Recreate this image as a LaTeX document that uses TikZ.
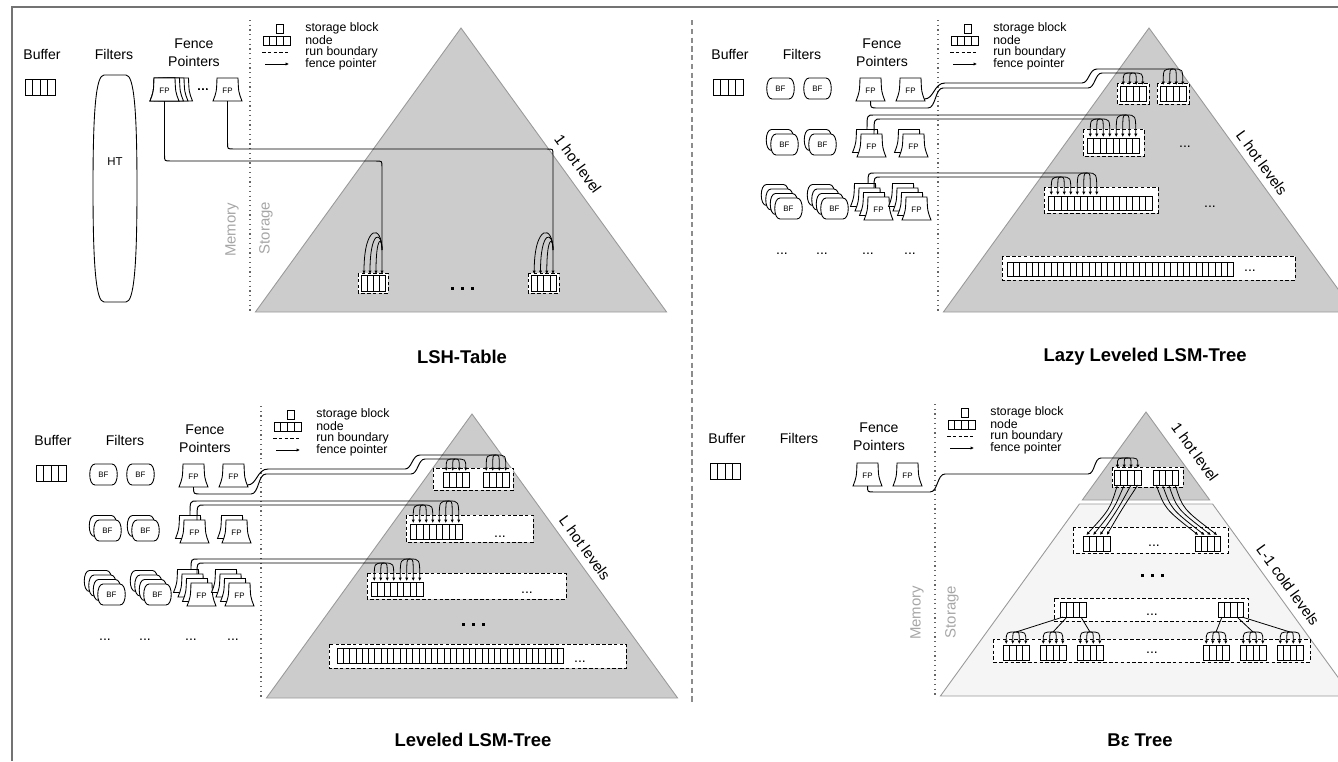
\documentclass[tikz,border=0pt]{standalone}
\usepackage{fontspec}
\setmainfont{Liberation Sans}
\usetikzlibrary{arrows.meta}

\tikzset{
  lbl/.style={font=\fontsize{8}{10.2}\selectfont, inner sep=0pt, align=center},
  ttl/.style={font=\bfseries\fontsize{10.5}{12}\selectfont},
  tag/.style={font=\fontsize{4.5}{5}\selectfont, inner sep=0pt},
  lgd/.style={font=\fontsize{7}{7}\selectfont, anchor=west, inner sep=0pt},
  slope/.style={font=\fontsize{8.5}{9}\selectfont, rotate=-54, inner sep=0pt},
  side/.style={font=\fontsize{8.5}{9}\selectfont, text=black!35, rotate=90},
  run/.style={dash pattern=on 2pt off 1.3pt, fill=white, line width=0.5pt},
  wire/.style={line width=0.55pt},
  tip/.style={-{Latex[length=1.9pt,width=1.9pt]}},
  fan/.style={line width=0.45pt, tip},
  hill/.style={fill=black!20, draw=black!40, line width=0.5pt},
}

% row of storage blocks: x, y (top left), count, block width, height
\newcommand{\blockrow}[5]{%
  \draw[fill=white, line width=0.45pt] (#1,#2) rectangle ({#1+#3*#4},{#2+#5});
  \foreach \k in {2,...,#3}
    \draw[line width=0.45pt] ({#1+(\k-1)*#4},#2) -- ++(0,#5);
}

% fence pointer page
\newcommand{\fpshape}[2]{%
  \draw[fill=white, line width=0.5pt] (#1+4,#2) -- (#1+25,#2)
    .. controls (#1+25.5,#2+14) .. (#1+29,#2+23) -- (#1,#2+23)
    .. controls (#1+3.5,#2+14) .. cycle;}
\newcommand{\fpstack}[3]{%
  \foreach \k in {#3,...,1}{\pgfmathsetmacro\dd{4.5*(\k-1)}\fpshape{#1-\dd}{#2-\dd}}
  \node[tag] (fp) at (#1+14.5,#2+13) {FP};}
\newcommand{\fpbox}[2]{\fpstack{#1}{#2}{1}}

% bloom filter
\newcommand{\bfshape}[2]{%
  \draw[fill=white, line width=0.5pt] (#1+6,#2) -- (#1+23,#2)
    .. controls (#1+30,#2) and (#1+30,#2+21) .. (#1+23,#2+21) -- (#1+6,#2+21)
    .. controls (#1-1,#2+21) and (#1-1,#2) .. cycle;}
\newcommand{\bfstack}[3]{%
  \foreach \k in {#3,...,1}{\pgfmathsetmacro\dd{4.5*(\k-1)}\bfshape{#1-\dd}{#2-\dd}}
  \node[tag] (bf) at (#1+14.5,#2+11) {BF};}
\newcommand{\bfbox}[2]{\bfstack{#1}{#2}{1}}

% pointers spreading from one point onto a row of blocks
\newcommand{\dome}[6]{%
  \foreach \k in {1,...,#5}
    \draw[fan] (#1,#2) .. controls ({#3+(\k-1)*#4},#2) .. ({#3+(\k-1)*#4},#6);}

% labels, buffer, memory line and legend of one panel
\newcommand{\panelhead}[1]{%
  \node[lbl] (#1-buf) at (42,54) {Buffer};
  \blockrow{25}{79}{4}{7.5}{16}
  \node[lbl] (#1-filt) at (114,54) {Filters};
  \node[lbl] (#1-fp) at (194,53) {Fence\\Pointers};
  \draw[dotted, line width=0.7pt, black!60] (250,20) -- (250,312);
  \draw[line width=0.45pt] (276.5,24) rectangle (283,33);
  \blockrow{263}{36}{4}{6.75}{9}
  \draw[line width=0.5pt, dash pattern=on 2pt off 1.3pt] (262,52) -- (288,52);
  \draw[fan] (265,64) -- (289,64);
  \node[lgd] (#1-l1) at (305,28) {storage block};
  \node[lgd] (#1-l2) at (305,40) {node};
  \node[lgd] (#1-l3) at (305,52) {run boundary};
  \node[lgd] (#1-l4) at (305,64) {fence pointer};
}

% filters and fence pointers of the lsm-trees
\newcommand{\lsmmemory}{%
  \bfbox{78}{78} \bfbox{115}{78}
  \bfstack{82}{134}{2} \bfstack{120}{134}{2}
  \bfstack{86}{198}{4} \bfstack{132}{198}{4}
  \fpbox{168}{78} \fpbox{208}{78}
  \fpstack{169}{134}{2} \fpstack{211}{134}{2}
  \fpstack{176}{197}{4} \fpstack{214}{197}{4}
  \foreach \x in {94,134,180,222} \node[lbl] (dots\x) at (\x,254) {...};
}
\newcommand{\lsmwires}{%
  \draw[wire] (182.5,101) .. controls (182.5,108) .. (190,108) -- (240,108)
    .. controls (248,108) and (247,88) .. (255,88)
    -- (400,88) .. controls (407,88) and (407,73) .. (414,73) -- (444,73);
  \draw[wire] (236.5,99) .. controls (246,99) and (246,83) .. (257,83)
    -- (394,83) .. controls (401,83) and (401,69) .. (409,69) -- (485,69);
  \draw[wire] (179,129.5) .. controls (179,115) .. (186,115) -- (438,115);
  \draw[wire] (186,134) .. controls (186,119) .. (193,119) -- (412,119);
  \draw[wire] (180,183.5) .. controls (180,173) .. (187,173) -- (399,173);
  \draw[wire] (186,188) .. controls (186,177) .. (193,177) -- (373,177);
  \dome{444}{73}{435.25}{6.5}{4}{85}
  \dome{485}{69}{475.25}{6.5}{4}{85}
  \dome{412}{119}{402.25}{6.5}{4}{137}
  \dome{438}{115}{428.25}{6.5}{4}{137}
  \dome{373}{177}{363.25}{6.5}{4}{195}
  \dome{399}{173}{389.25}{6.5}{4}{195}
}

\begin{document}
\begin{tikzpicture}[x=0.02cm, y=-0.02cm]
\useasboundingbox (0,0) rectangle (1338,761);

\draw[black!55, line width=1.1pt] (12,761) -- (12,7) -- (1338,7);
\draw[black!45, line width=0.6pt, dash pattern=on 3pt off 2pt] (692,20) -- (692,702);

% LSH-table
\draw[hill] (461,28) -- (666.6,312) -- (255.4,312) -- cycle;
\panelhead{lsh}
\draw[line width=0.5pt] (104,75) -- (126,75) .. controls (134,75) and (137,110) .. (137,188)
  .. controls (137,266) and (134,302) .. (126,302) -- (104,302)
  .. controls (96,302) and (93,266) .. (93,188) .. controls (93,110) and (96,75) .. cycle;
\node[lbl, font=\fontsize{6.5}{7}\selectfont] (ht) at (115,162) {HT};
\foreach \k in {3,2,1} \fpshape{150+4.5*\k}{78}
\fpbox{150}{78}
\node[lbl] (fpdots) at (203,90) {...};
\fpbox{213}{78}
\node[side] (lsh-mem) at (232,230) {Memory};
\node[side] (lsh-sto) at (266,228) {Storage};
\draw[run] (358,273) rectangle (388,293);
\blockrow{361}{275}{4}{6}{16}
\draw[run] (528,273) rectangle (559,293);
\blockrow{531}{275}{4}{6.3}{16}
\draw[wire, tip] (164.5,101) -- (164.5,155) .. controls (164.5,161) .. (170.5,161) -- (376,161)
  .. controls (382,161) .. (382,167) -- (382,274);
\draw[wire, tip] (227.5,101) -- (227.5,143) .. controls (227.5,149) .. (233.5,149) -- (547,149)
  .. controls (553,149) .. (553,155) -- (553,274);
\foreach \tx/\ty in {364/224, 370/230, 376/236}
  \draw[fan] (382,250) .. controls (382,\ty) and (\tx,\ty) .. (\tx,274);
\foreach \tx/\ty in {534.2/224, 540.5/230, 546.8/236}
  \draw[fan] (553,250) .. controls (553,\ty) and (\tx,\ty) .. (\tx,274);
\foreach \d in {-10,0,10} \fill (460.5+\d,287) rectangle ++(3,3);
\node[slope] (lsh-hot) at (578,164) {1 hot level};

% lazy leveling
\begin{scope}[shift={(688,0)}]
\draw[hill] (461,28) -- (666.6,312) -- (255.4,312) -- cycle;
\panelhead{lazy}
\lsmmemory
\draw[run] (429,83) rectangle (461,104);
\draw[run] (469,83) rectangle (501,104);
\blockrow{432}{86}{4}{6.5}{15}
\blockrow{472}{86}{4}{6.5}{15}
\draw[run] (395,129) rectangle (456,156);
\blockrow{399}{138}{8}{6.5}{15}
\node[lbl] (lazy-d2) at (497,147) {...};
\draw[run] (356,187) rectangle (470,213);
\blockrow{360}{196}{16}{6.5}{14}
\node[lbl] (lazy-d3) at (522,207) {...};
\draw[run] (314,256) rectangle (607,280);
\blockrow{319}{262}{36}{6.3}{14}
\node[lbl] (lazy-d4) at (562,271) {...};
\lsmwires
\node[slope] (lazy-hot) at (574,163) {L hot levels};
\end{scope}

% leveling
\begin{scope}[shift={(11,386)}]
\draw[hill] (461,28) -- (666.6,312) -- (255.4,312) -- cycle;
\panelhead{lev}
\lsmmemory
\draw[run] (422,82) rectangle (502,104);
\blockrow{432}{86}{4}{6.5}{15}
\blockrow{472}{86}{4}{6.5}{15}
\draw[run] (395,129) rectangle (522,156);
\blockrow{399}{138}{8}{6.5}{15}
\node[lbl] (lev-d2) at (489,151) {...};
\draw[run] (356,187) rectangle (555,213);
\blockrow{360}{196}{8}{6.5}{14}
\node[lbl] (lev-d3) at (516,207) {...};
\foreach \d in {-10,0,10} \fill (460.5+\d,237) rectangle ++(3,3);
\draw[run] (318,258) rectangle (615,282);
\blockrow{326}{262}{36}{6.3}{15}
\node[lbl] (lev-d4) at (569,276) {...};
\lsmwires
\node[slope] (lev-hot) at (574,162) {L hot levels};
\end{scope}

% b-epsilon tree
\begin{scope}[shift={(685,384)}]
\draw[hill] (461,28) -- (524.7,116) -- (397.3,116) -- cycle;
\draw[fill=black!4, draw=black!40, line width=0.5pt] (394.4,120) -- (527.6,120) -- (666.6,312) -- (255.4,312) -- cycle;
\panelhead{be}
\fpbox{168}{79} \fpbox{208}{79}
\node[side] (be-mem) at (232,229) {Memory};
\node[side] (be-sto) at (267,228) {Storage};
\draw[run] (427,83) rectangle (498,103);
\blockrow{429}{86}{4}{6.8}{15}
\blockrow{468}{86}{4}{6.3}{15}
\draw[wire] (182.5,102) .. controls (182.5,108) .. (189,108) -- (245,108)
  .. controls (253,108) and (252,90) .. (260,90)
  -- (403,90) .. controls (410,90) and (409,74) .. (416,74) -- (443,74);
\dome{443}{74}{432.4}{6.8}{4}{84}
\draw[run] (388,143) rectangle (543,169);
\blockrow{398}{152}{4}{6.8}{15}
\blockrow{510}{152}{4}{6.3}{15}
\foreach \k in {0,...,3} {
  \draw[fan] (432.4+6.8*\k,101) .. controls (425+4*\k,125) .. (401.4+6.8*\k,151);
  \draw[fan] (471.2+6.3*\k,101) .. controls (480+6*\k,125) .. (513.2+6.3*\k,151);
}
\node[lbl] (be-d2) at (469,162) {...};
\foreach \d in {-10,0,10} \fill (465.5+\d,190) rectangle ++(3,3);
\draw[run] (369,214) rectangle (563,237);
\blockrow{375}{218}{4}{6.5}{15}
\blockrow{533}{218}{4}{6.3}{15}
\node[lbl] (be-d3) at (467,231) {...};
\draw[run] (308,255) rectangle (625,278);
\foreach \x in {318,355,392,518,555,592} {
  \blockrow{\x}{261}{4}{6.5}{15}
  \dome{\x+13}{248}{\x+3.25}{6.5}{4}{260}
}
\draw[line width=0.45pt] (378,233) -- (331,248);
\draw[line width=0.45pt] (382,233) -- (368,248);
\draw[line width=0.45pt] (396,233) -- (405,248);
\draw[line width=0.45pt] (537,233) -- (531,248);
\draw[line width=0.45pt] (552,233) -- (568,248);
\draw[line width=0.45pt] (557,233) -- (605,248);
\node[lbl] (be-d4) at (467,269) {...};
\node[slope] (be-hot) at (510,68) {1 hot level};
\node[slope] (be-cold) at (603,201) {L-1 cold levels};
\end{scope}

% panel titles
\node[ttl] (t-lsh) at (462,357) {LSH-Table};
\node[ttl] (t-lazy) at (1145,357) {Lazy Leveled LSM-Tree};
\node[ttl] (t-lev) at (473,740) {Leveled LSM-Tree};
\node[ttl] (t-be) at (1140,740) {Bε Tree};
\end{tikzpicture}
\end{document}
